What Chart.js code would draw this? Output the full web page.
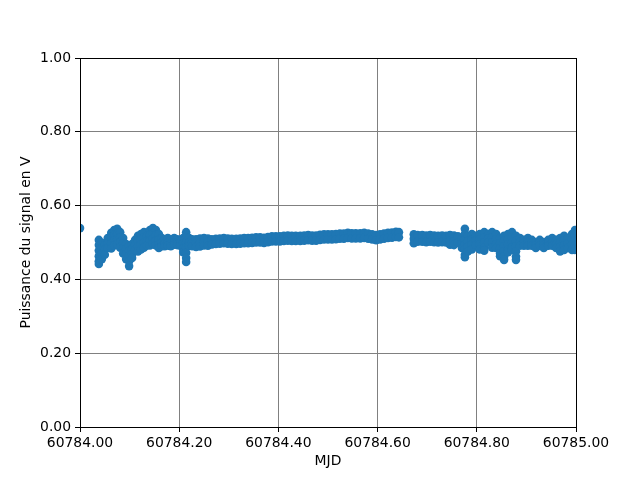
<!DOCTYPE html>
<html>
<head>
<meta charset="utf-8">
<script src="https://cdn.jsdelivr.net/npm/chart.js@4/dist/chart.umd.min.js"></script>
<style>
  body { margin: 0; background: #fff; }
  canvas { display: block; }
</style>
</head>
<body>
<canvas id="chart" width="640" height="480"></canvas>
<script>
const mjd = [
  60784.000,
  60784.038, 60784.038, 60784.038, 60784.038, 60784.038, 60784.038,
  60784.044, 60784.044, 60784.044, 60784.044,
  60784.050, 60784.050, 60784.050,
  60784.056, 60784.056, 60784.056,
  60784.063, 60784.063, 60784.063, 60784.063,
  60784.069, 60784.069, 60784.069, 60784.069,
  60784.075, 60784.075, 60784.075, 60784.075,
  60784.081, 60784.081, 60784.081, 60784.081,
  60784.087, 60784.087, 60784.087, 60784.087,
  60784.093, 60784.093, 60784.093, 60784.093,
  60784.099, 60784.099, 60784.099, 60784.099, 60784.099,
  60784.105, 60784.105, 60784.105, 60784.105,
  60784.111, 60784.111, 60784.111,
  60784.117, 60784.117, 60784.117, 60784.117,
  60784.123, 60784.123, 60784.123, 60784.123,
  60784.129, 60784.129, 60784.129, 60784.129,
  60784.135, 60784.135, 60784.135,
  60784.141, 60784.141, 60784.141, 60784.141,
  60784.147, 60784.147, 60784.147, 60784.147,
  60784.153, 60784.153, 60784.153, 60784.153,
  60784.159, 60784.159, 60784.159, 60784.159,
  60784.165, 60784.165, 60784.165,
  60784.171, 60784.171, 60784.171,
  60784.177, 60784.177, 60784.177,
  60784.183, 60784.183, 60784.183,
  60784.190, 60784.190, 60784.190,
  60784.196, 60784.196, 60784.196,
  60784.202, 60784.202, 60784.202,
  60784.208, 60784.208, 60784.208, 60784.208,
  60784.214, 60784.214, 60784.214, 60784.214, 60784.214, 60784.214, 60784.214,
  60784.220, 60784.220, 60784.220,
  60784.226, 60784.226, 60784.226,
  60784.234, 60784.234, 60784.234,
  60784.242, 60784.242, 60784.242,
  60784.250, 60784.250, 60784.250,
  60784.258, 60784.258, 60784.258,
  60784.266, 60784.266, 60784.274, 60784.274, 60784.282, 60784.282,
  60784.290, 60784.290, 60784.298, 60784.298, 60784.306, 60784.306,
  60784.315, 60784.315, 60784.323, 60784.323, 60784.331, 60784.331,
  60784.339, 60784.339, 60784.347, 60784.347, 60784.355, 60784.355,
  60784.363, 60784.363, 60784.371, 60784.371, 60784.379, 60784.379,
  60784.387, 60784.387, 60784.395, 60784.395, 60784.403, 60784.403,
  60784.411, 60784.411, 60784.419, 60784.419, 60784.427, 60784.427,
  60784.435, 60784.435, 60784.444, 60784.444, 60784.452, 60784.452,
  60784.460, 60784.460, 60784.468, 60784.468, 60784.476, 60784.476,
  60784.484, 60784.484, 60784.492, 60784.492, 60784.500, 60784.500,
  60784.508, 60784.508, 60784.516, 60784.516, 60784.524, 60784.524,
  60784.532, 60784.532, 60784.540, 60784.540, 60784.548, 60784.548,
  60784.556, 60784.556, 60784.565, 60784.565, 60784.573, 60784.573,
  60784.581, 60784.581, 60784.589, 60784.589, 60784.597, 60784.597,
  60784.605, 60784.605, 60784.613, 60784.613, 60784.621, 60784.621,
  60784.629, 60784.629, 60784.637, 60784.637, 60784.643, 60784.643,
  60784.673, 60784.673, 60784.673,
  60784.681, 60784.681, 60784.690, 60784.690, 60784.698, 60784.698,
  60784.706, 60784.706, 60784.714, 60784.714, 60784.722, 60784.722,
  60784.730, 60784.730, 60784.738, 60784.738,
  60784.746, 60784.746, 60784.746,
  60784.754, 60784.754, 60784.754,
  60784.762, 60784.762,
  60784.770, 60784.770, 60784.770,
  60784.776, 60784.776, 60784.776, 60784.776, 60784.776, 60784.776, 60784.776,
  60784.782, 60784.782, 60784.782, 60784.782,
  60784.790, 60784.790, 60784.790, 60784.790,
  60784.798, 60784.798, 60784.798,
  60784.806, 60784.806, 60784.806, 60784.806,
  60784.815, 60784.815, 60784.815, 60784.815, 60784.815,
  60784.823, 60784.823, 60784.823,
  60784.831, 60784.831, 60784.831, 60784.831,
  60784.839, 60784.839, 60784.839, 60784.839,
  60784.847, 60784.847, 60784.847, 60784.847, 60784.847,
  60784.855, 60784.855, 60784.855, 60784.855, 60784.855, 60784.855,
  60784.863, 60784.863, 60784.863, 60784.863, 60784.863,
  60784.871, 60784.871, 60784.871, 60784.871, 60784.871,
  60784.879, 60784.879, 60784.879, 60784.879, 60784.879, 60784.879,
  60784.887, 60784.887, 60784.887,
  60784.895, 60784.895, 60784.895,
  60784.903, 60784.903, 60784.903,
  60784.911, 60784.911, 60784.911,
  60784.919, 60784.919, 60784.919,
  60784.927, 60784.927, 60784.927,
  60784.935, 60784.935, 60784.935,
  60784.944, 60784.944, 60784.944,
  60784.952, 60784.952, 60784.952,
  60784.960, 60784.960, 60784.960,
  60784.968, 60784.968, 60784.968, 60784.968,
  60784.976, 60784.976, 60784.976, 60784.976,
  60784.984, 60784.984, 60784.984,
  60784.992, 60784.992, 60784.992, 60784.992,
  60784.998, 60784.998, 60784.998, 60784.998, 60784.998
];

const puissance = [
  0.539,
  0.507, 0.493, 0.478, 0.463, 0.449, 0.442,
  0.499, 0.485, 0.470, 0.455,
  0.493, 0.480, 0.467,
  0.512, 0.498, 0.485,
  0.526, 0.512, 0.498, 0.484,
  0.534, 0.520, 0.506, 0.492,
  0.537, 0.523, 0.509, 0.495,
  0.528, 0.514, 0.500, 0.486,
  0.512, 0.498, 0.484, 0.470,
  0.496, 0.482, 0.468, 0.455,
  0.491, 0.477, 0.463, 0.449, 0.436,
  0.496, 0.482, 0.468, 0.458,
  0.507, 0.493, 0.480,
  0.518, 0.504, 0.490, 0.476,
  0.523, 0.509, 0.495, 0.481,
  0.528, 0.514, 0.500, 0.486,
  0.518, 0.504, 0.492,
  0.534, 0.520, 0.506, 0.492,
  0.539, 0.525, 0.511, 0.497,
  0.534, 0.520, 0.506, 0.492,
  0.523, 0.509, 0.495, 0.485,
  0.512, 0.500, 0.490,
  0.509, 0.497, 0.490,
  0.512, 0.500, 0.492,
  0.507, 0.497, 0.490,
  0.512, 0.500, 0.494,
  0.509, 0.500, 0.493,
  0.507, 0.498, 0.491,
  0.512, 0.498, 0.485, 0.474,
  0.528, 0.514, 0.500, 0.486, 0.472, 0.458, 0.447,
  0.512, 0.500, 0.491,
  0.509, 0.499, 0.490,
  0.509, 0.498, 0.488,
  0.511, 0.500, 0.489,
  0.512, 0.502, 0.492,
  0.511, 0.501, 0.491,
  0.509, 0.495, 0.510, 0.496, 0.511, 0.497,
  0.512, 0.498, 0.511, 0.497, 0.510, 0.496,
  0.510, 0.496, 0.511, 0.497, 0.512, 0.498,
  0.512, 0.498, 0.513, 0.499, 0.514, 0.500,
  0.514, 0.500, 0.513, 0.499, 0.515, 0.501,
  0.517, 0.503, 0.517, 0.503, 0.517, 0.503,
  0.518, 0.504, 0.519, 0.505, 0.518, 0.504,
  0.518, 0.504, 0.518, 0.504, 0.519, 0.505,
  0.520, 0.506, 0.519, 0.505, 0.519, 0.505,
  0.521, 0.507, 0.522, 0.508, 0.522, 0.508,
  0.522, 0.508, 0.523, 0.509, 0.524, 0.510,
  0.524, 0.510, 0.526, 0.512, 0.525, 0.511,
  0.525, 0.511, 0.525, 0.511, 0.526, 0.512,
  0.524, 0.510, 0.522, 0.508, 0.520, 0.506,
  0.522, 0.508, 0.524, 0.510, 0.526, 0.512,
  0.527, 0.513, 0.529, 0.515, 0.528, 0.514,
  0.522, 0.510, 0.498,
  0.520, 0.502, 0.520, 0.502, 0.519, 0.501,
  0.520, 0.502, 0.519, 0.501, 0.518, 0.500,
  0.519, 0.501, 0.518, 0.500,
  0.520, 0.504, 0.494,
  0.519, 0.503, 0.493,
  0.517, 0.500,
  0.510, 0.498, 0.485,
  0.537, 0.523, 0.509, 0.495, 0.481, 0.467, 0.460,
  0.518, 0.504, 0.490, 0.476,
  0.523, 0.509, 0.495, 0.481,
  0.518, 0.506, 0.493,
  0.523, 0.509, 0.495, 0.481,
  0.528, 0.514, 0.500, 0.486, 0.478,
  0.523, 0.511, 0.500,
  0.528, 0.514, 0.500, 0.486,
  0.523, 0.509, 0.495, 0.485,
  0.512, 0.498, 0.484, 0.470, 0.463,
  0.518, 0.504, 0.490, 0.476, 0.462, 0.453,
  0.523, 0.509, 0.495, 0.481, 0.474,
  0.528, 0.514, 0.500, 0.486, 0.480,
  0.518, 0.504, 0.490, 0.476, 0.462, 0.453,
  0.512, 0.501, 0.491,
  0.507, 0.499, 0.491,
  0.512, 0.501, 0.491,
  0.507, 0.499, 0.491,
  0.501, 0.493, 0.485,
  0.507, 0.499, 0.491,
  0.501, 0.493, 0.485,
  0.507, 0.499, 0.491,
  0.512, 0.501, 0.491,
  0.507, 0.496, 0.485,
  0.512, 0.500, 0.488, 0.476,
  0.518, 0.505, 0.492, 0.480,
  0.512, 0.498, 0.485,
  0.523, 0.509, 0.495, 0.480,
  0.534, 0.520, 0.506, 0.492, 0.480
];

const xTicks = { min: 60784.0, max: 60785.0, step: 0.2 };
const yTicks = { min: 0.0, max: 1.0, step: 0.2 };

const font = { family: 'DejaVu Sans', size: 13.9 };

// cadre noir autour de la zone de tracé, par-dessus les points
const frame = {
  id: 'frame',
  afterDraw(chart) {
    const { ctx, chartArea: a } = chart;
    ctx.save();
    ctx.strokeStyle = '#000';
    ctx.lineWidth = 1;
    ctx.strokeRect(Math.round(a.left) + 0.5, Math.round(a.top) + 0.5,
      Math.round(a.right - a.left), Math.round(a.bottom - a.top));
    ctx.restore();
  }
};

new Chart(document.getElementById('chart'), {
  type: 'scatter',
  data: {
    datasets: [{
      data: mjd.map((t, i) => ({ x: t, y: puissance[i] })),
      backgroundColor: '#1f77b4',
      borderWidth: 0,
      pointRadius: 4.3,
      pointHoverRadius: 4.3,
      clip: 0
    }]
  },
  options: {
    responsive: false,
    animation: false,
    layout: { padding: { left: 0, top: 58, right: 64, bottom: 0 } },
    plugins: { legend: { display: false }, tooltip: { enabled: false } },
    scales: {
      x: {
        type: 'linear',
        min: xTicks.min,
        max: xTicks.max,
        afterFit: s => { s.height = 53; },
        ticks: {
          stepSize: xTicks.step,
          color: '#000',
          font: font,
          padding: 3,
          maxRotation: 0,
          callback: v => Number(v).toFixed(2)
        },
        grid: { color: '#808080', lineWidth: 1, tickColor: '#000', tickLength: 5 },
        border: { display: false },
        title: { display: true, text: 'MJD', color: '#000', font: font, padding: 10 }
      },
      y: {
        type: 'linear',
        min: yTicks.min,
        max: yTicks.max,
        afterFit: s => { s.width = 80; },
        ticks: {
          stepSize: yTicks.step,
          color: '#000',
          font: font,
          padding: 4,
          callback: v => Number(v).toFixed(2)
        },
        grid: { color: '#808080', lineWidth: 1, tickColor: '#000', tickLength: 5 },
        border: { display: false },
        title: { display: true, text: 'Puissance du signal en V', color: '#000', font: font, padding: 18 }
      }
    }
  },
  plugins: [frame]
});
</script>
</body>
</html>
